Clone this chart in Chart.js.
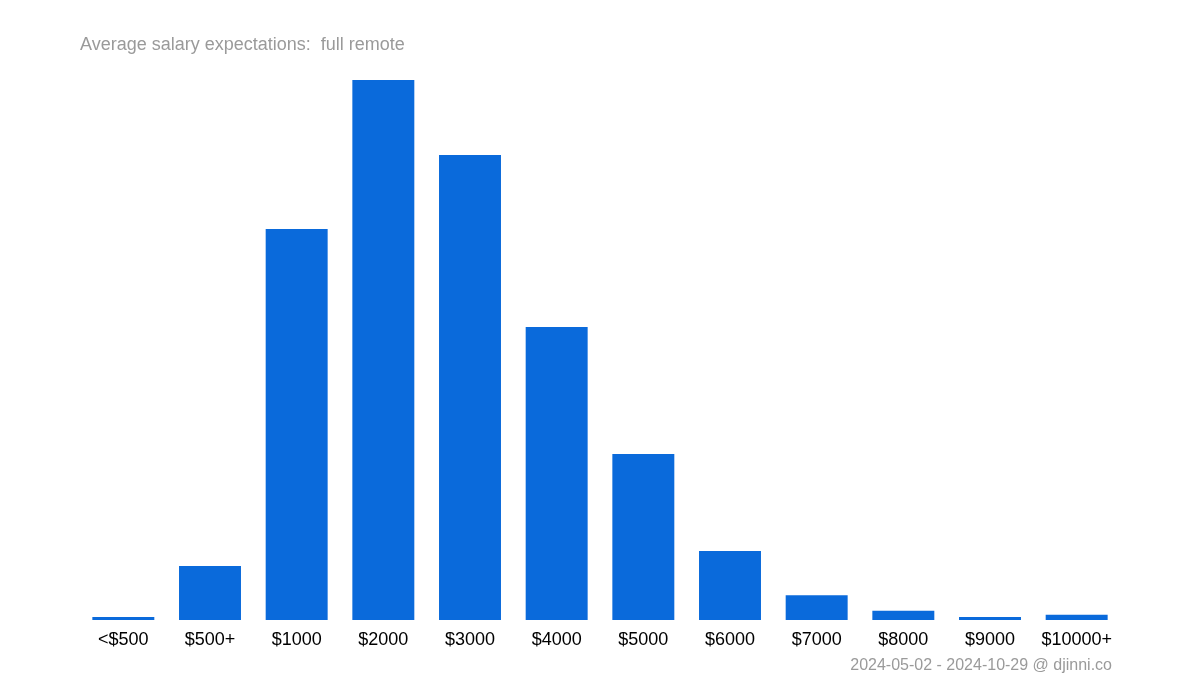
<!DOCTYPE html>
<html>
<head>
<meta charset="utf-8">
<script src="https://cdn.jsdelivr.net/npm/chart.js@4"></script>
<style>
  html, body { margin: 0; padding: 0; background: #fff; }
  #wrap { width: 1200px; height: 700px; position: relative; }
</style>
</head>
<body>
<div id="wrap"><canvas id="salaryChart"></canvas></div>
<script>
// Salary buckets and relative share of candidates
const categories = ['<$500', '$500+', '$1000', '$2000', '$3000', '$4000', '$5000', '$6000', '$7000', '$8000', '$9000', '$10000+'];
const counts = [3, 54, 391, 540, 465, 293, 166, 69, 24.7, 9.3, 3, 5.3];
const titleText = 'Average salary expectations:  full remote';
const footerText = '2024-05-02 - 2024-10-29 @ djinni.co';

// Title and footer text drawn on the canvas
const labelsPlugin = {
    id: 'labelsPlugin',
    afterDraw(chart) {
        const c = chart.ctx;
        c.save();
        c.fillStyle = '#9a9a9a';
        c.font = '18px "Liberation Sans", Arial, sans-serif';
        c.textBaseline = 'alphabetic';
        c.textAlign = 'left';
        c.fillText(titleText, 80, 50);
        c.font = '16px "Liberation Sans", Arial, sans-serif';
        c.textAlign = 'right';
        c.fillText(footerText, 1112, 670);
        c.restore();
    }
};

const ctx = document.getElementById('salaryChart').getContext('2d');
const salaryChart = new Chart(ctx, {
    type: 'bar',
    data: {
        labels: categories,
        datasets: [{
            data: counts,
            backgroundColor: '#0a6adb',
            borderWidth: 0,
            barPercentage: 0.715,
            categoryPercentage: 1.0
        }]
    },
    options: {
        responsive: true,
        maintainAspectRatio: false,
        animation: false,
        layout: { padding: { left: 80, right: 80, top: 80, bottom: 0 } },
        plugins: {
            legend: { display: false },
            tooltip: { enabled: false }
        },
        scales: {
            x: {
                grid: { display: false },
                border: { display: false },
                ticks: {
                    color: '#000',
                    padding: 1,
                    maxRotation: 0,
                    font: { family: '"Liberation Sans", Arial, sans-serif', size: 18 }
                },
                afterFit(scale) { scale.height = 80; }
            },
            y: {
                display: false,
                min: 0,
                max: 540
            }
        }
    },
    plugins: [labelsPlugin]
});
</script>
</body>
</html>
